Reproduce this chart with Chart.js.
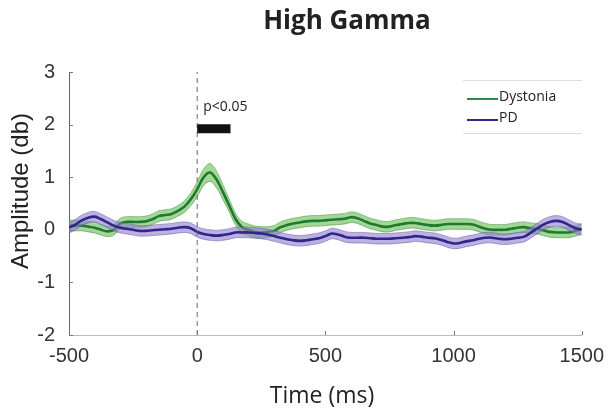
<!DOCTYPE html>
<html><head><meta charset="utf-8">
<script src="https://cdn.jsdelivr.net/npm/chart.js@4"></script>
<style>html,body{margin:0;padding:0;background:#fff;}</style>
</head><body>
<canvas id="c" width="613" height="415"></canvas>
<script>
const times = [-500,-475,-450,-425,-400,-375,-350,-325,-300,-275,-250,-225,-200,-175,-150,-125,-100,-75,-50,-25,
  0,25,50,75,100,125,150,175,200,225,250,275,300,325,350,375,400,425,450,475,
  500,525,550,575,600,625,650,675,700,725,750,775,800,825,850,875,900,925,950,975,
  1000,1025,1050,1075,1100,1125,1150,1175,1200,1225,1250,1275,1300,1325,1350,1375,1400,1425,1450,1475,1500];
const dystonia = [0.08,0.08,0.08,0.06,0.04,0.0,-0.03,0.0,0.12,0.15,0.15,0.15,0.16,0.2,0.26,0.28,0.3,0.36,0.44,0.58,
  0.77,1.0,1.09,0.96,0.72,0.46,0.2,0.05,0.0,-0.04,-0.05,-0.04,-0.02,0.05,0.09,0.12,0.14,0.16,0.17,0.17,
  0.18,0.19,0.2,0.21,0.24,0.22,0.17,0.12,0.09,0.06,0.06,0.09,0.11,0.13,0.13,0.11,0.09,0.08,0.09,0.11,
  0.11,0.11,0.11,0.1,0.06,0.02,0.0,0.0,0.0,0.02,0.04,0.05,0.03,0.02,-0.01,-0.04,-0.05,-0.05,-0.05,-0.02,0.01];
const dystoniaSem = [0.1,0.1,0.1,0.1,0.1,0.1,0.1,0.1,0.1,0.1,0.1,0.1,0.1,0.1,0.1,0.1,0.1,0.1,0.11,0.12,
  0.14,0.16,0.17,0.16,0.14,0.12,0.11,0.11,0.11,0.11,0.11,0.1,0.1,0.1,0.1,0.1,0.1,0.1,0.1,0.1,
  0.1,0.1,0.1,0.1,0.1,0.1,0.1,0.1,0.1,0.1,0.1,0.1,0.1,0.1,0.1,0.1,0.1,0.1,0.1,0.1,
  0.1,0.1,0.1,0.1,0.1,0.1,0.1,0.1,0.1,0.1,0.1,0.1,0.1,0.1,0.1,0.1,0.1,0.1,0.1,0.1,0.1];
const pd = [0.04,0.1,0.18,0.23,0.25,0.2,0.14,0.08,0.04,0.02,0.0,-0.02,-0.02,-0.01,0.0,0.01,0.02,0.04,0.05,0.03,
  -0.04,-0.08,-0.1,-0.11,-0.1,-0.08,-0.05,-0.05,-0.05,-0.06,-0.07,-0.09,-0.12,-0.15,-0.18,-0.2,-0.21,-0.2,-0.18,-0.16,
  -0.12,-0.07,-0.09,-0.13,-0.15,-0.15,-0.15,-0.16,-0.17,-0.17,-0.17,-0.16,-0.15,-0.14,-0.12,-0.13,-0.15,-0.16,-0.19,-0.23,
  -0.26,-0.25,-0.22,-0.2,-0.17,-0.15,-0.15,-0.17,-0.18,-0.17,-0.15,-0.13,-0.06,0.02,0.1,0.15,0.17,0.15,0.09,0.03,0.01];
const pdSem = [0.1,0.1,0.1,0.1,0.1,0.1,0.1,0.1,0.1,0.1,0.1,0.1,0.1,0.1,0.1,0.1,0.1,0.1,0.1,0.1,
  0.1,0.1,0.1,0.1,0.1,0.1,0.1,0.1,0.1,0.1,0.1,0.1,0.1,0.1,0.1,0.1,0.1,0.1,0.1,0.1,
  0.1,0.1,0.1,0.1,0.1,0.1,0.1,0.1,0.1,0.1,0.1,0.1,0.1,0.1,0.1,0.1,0.1,0.1,0.1,0.1,
  0.1,0.1,0.1,0.1,0.1,0.1,0.1,0.1,0.1,0.1,0.1,0.1,0.1,0.1,0.1,0.1,0.1,0.1,0.1,0.1,0.1];
const xTicks = [-500, 0, 500, 1000, 1500];
const yTicks = [-2, -1, 0, 1, 2, 3];
const sigWindow = [0, 130];
const sigLevel = 1.92;
const onsetTime = 0;
const seriesNames = ['Dystonia', 'PD'];
const chartTitle = 'High Gamma';
const xTitle = 'Time (ms)';
const yTitle = 'Amplitude (db)';
const sigLabel = 'p<0.05';

const pts = (vals, off, sign) => times.map((t, i) => ({x: t, y: vals[i] + (off ? sign * off[i] : 0)}));

const G_LINE = '#23782f', G_FILL = 'rgba(104,192,88,0.62)', G_EDGE = 'rgba(60,140,55,0.55)';
const P_LINE = '#33248a', P_FILL = 'rgba(140,122,205,0.58)', P_EDGE = 'rgba(95,75,170,0.5)';

const base = {pointRadius: 0, tension: 0.35, fill: false};
const datasets = [
  {...base, data: pts(dystonia, dystoniaSem, 1), borderColor: G_EDGE, borderWidth: 1, order: 7},
  {...base, data: pts(dystonia, dystoniaSem, -1), borderColor: G_EDGE, borderWidth: 1, fill: '-1', backgroundColor: G_FILL, order: 6},
  {...base, data: pts(dystonia), borderColor: G_LINE, borderWidth: 2.6, order: 5},
  {...base, data: pts(pd, pdSem, 1), borderColor: P_EDGE, borderWidth: 1, order: 4},
  {...base, data: pts(pd, pdSem, -1), borderColor: P_EDGE, borderWidth: 1, fill: '-1', backgroundColor: P_FILL, order: 3},
  {...base, data: pts(pd), borderColor: P_LINE, borderWidth: 2.6, order: 2},
  {pointRadius: 0, tension: 0, data: [{x: onsetTime, y: yTicks[0]}, {x: onsetTime, y: yTicks[yTicks.length-1]}], borderColor: '#666', borderWidth: 1, borderDash: [5, 4], order: 1},
  {pointRadius: 0, tension: 0, data: [{x: sigWindow[0], y: sigLevel}, {x: sigWindow[1], y: sigLevel}], borderColor: '#111', borderWidth: 9, borderCapStyle: 'butt', order: 0}
];

const deco = {
  id: 'deco',
  afterDraw(chart) {
    const ctx = chart.ctx, xs = chart.scales.x, ys = chart.scales.y, a = chart.chartArea;
    ctx.save();
    ctx.strokeStyle = '#777'; ctx.lineWidth = 1;
    yTicks.forEach(v => { const y = Math.round(ys.getPixelForValue(v)) + 0.5; ctx.beginPath(); ctx.moveTo(a.left, y); ctx.lineTo(a.left + 4, y); ctx.stroke(); });
    xTicks.forEach(v => { const x = Math.round(xs.getPixelForValue(v)) + 0.5; ctx.beginPath(); ctx.moveTo(x, a.bottom); ctx.lineTo(x, a.bottom - 4); ctx.stroke(); });
    ctx.fillStyle = '#222'; ctx.textAlign = 'center'; ctx.textBaseline = 'middle';
    ctx.font = 'bold 26px "Open Sans"';
    ctx.fillText(chartTitle, 347, 22);
    ctx.font = '23px "Open Sans"';
    ctx.fillText(xTitle, 322, 396);
    ctx.save(); ctx.translate(21, 191); ctx.rotate(-Math.PI / 2);
    ctx.font = '24px "Liberation Sans"';
    ctx.fillText(yTitle, 0, 0);
    ctx.restore();
    ctx.textAlign = 'left'; ctx.font = '14px "Open Sans"'; ctx.fillStyle = '#222';
    ctx.fillText(sigLabel, xs.getPixelForValue(sigWindow[0]) + 6, ys.getPixelForValue(sigLevel) - 22);
    ctx.strokeStyle = '#ddd'; ctx.lineWidth = 1;
    ctx.beginPath(); ctx.moveTo(463, 80.5); ctx.lineTo(582, 80.5); ctx.stroke();
    ctx.beginPath(); ctx.moveTo(463, 133.5); ctx.lineTo(582, 133.5); ctx.stroke();
    const items = [[seriesNames[0], '#2e8b40', 99], [seriesNames[1], P_LINE, 120]];
    items.forEach(([name, col, y]) => {
      ctx.strokeStyle = col; ctx.lineWidth = 2;
      ctx.beginPath(); ctx.moveTo(467, y); ctx.lineTo(498, y); ctx.stroke();
      ctx.fillStyle = '#222'; ctx.font = '14px "Open Sans"';
      ctx.fillText(name, 499, y - 2);
    });
    ctx.restore();
  }
};

new Chart(document.getElementById('c'), {
  type: 'line',
  data: {datasets},
  options: {
    responsive: false, animation: false, devicePixelRatio: 1,
    layout: {padding: {left: 0, top: 72, right: 27, bottom: 0}},
    plugins: {legend: {display: false}, tooltip: {enabled: false}},
    scales: {
      x: {
        type: 'linear', min: -500, max: 1500,
        afterBuildTicks: s => { s.ticks = xTicks.map(v => ({value: v})); },
        afterFit: s => { s.height = 80; },
        grid: {drawOnChartArea: false, drawTicks: false},
        border: {display: true, color: '#bbb', width: 1},
        ticks: {padding: 9, color: '#333', font: {family: '"Liberation Sans"', size: 20}, callback: v => String(v)}
      },
      y: {
        type: 'linear', min: -2, max: 3,
        afterBuildTicks: s => { s.ticks = yTicks.map(v => ({value: v})); },
        afterFit: s => { s.width = 69; },
        grid: {drawOnChartArea: false, drawTicks: false},
        border: {display: true, color: '#666', width: 1},
        ticks: {padding: 14, color: '#333', font: {family: '"Liberation Sans"', size: 20}, callback: v => String(v)}
      }
    }
  },
  plugins: [deco]
});
</script>
</body></html>
